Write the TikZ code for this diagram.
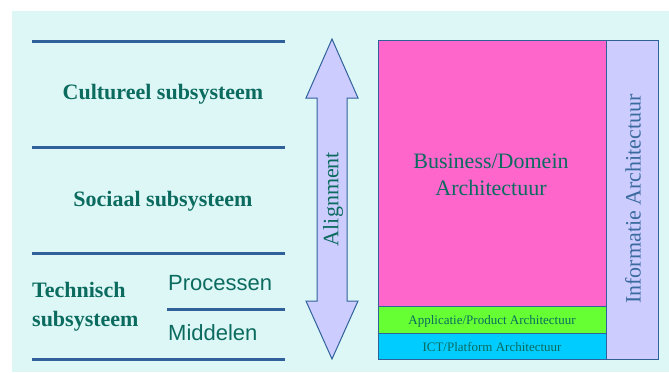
\documentclass[tikz,border=0pt]{standalone}
\usepackage{fontspec}
\setmainfont{Liberation Serif}
\newfontfamily\arialfont{Liberation Sans}
\definecolor{bgc}{HTML}{DDF7F7}
\definecolor{linec}{HTML}{30619A}
\definecolor{txtc}{HTML}{0B6B5E}
\definecolor{infoc}{HTML}{3A6A9E}
\definecolor{pinkc}{HTML}{FF66CC}
\definecolor{greenc}{HTML}{66FF33}
\definecolor{cyanc}{HTML}{00CCFF}
\definecolor{lavc}{HTML}{CCCCFF}
\begin{document}
\begin{tikzpicture}[x=1pt,y=-1pt,
  sepline/.style={draw=linec,line width=3pt},
  boxc/.style={draw=linec,line width=1pt},
  bigbold/.style={font=\fontsize{22}{28}\selectfont\bfseries,text=txtc,inner sep=0pt},
  sanslbl/.style={font=\arialfont\fontsize{22}{26}\selectfont,text=txtc,inner sep=0pt,anchor=west},
  serifmid/.style={font=\fontsize{22}{27}\selectfont,text=txtc,inner sep=0pt,align=center},
  smalllbl/.style={font=\fontsize{13}{15}\selectfont,text=txtc,inner sep=0pt}]
\useasboundingbox (0,0) rectangle (669,372);
\fill[bgc] (12,11) rectangle (669,372);
% separator lines
\coordinate (l1a) at (32,41);  \coordinate (l1b) at (285,41);
\coordinate (l2a) at (32,147); \coordinate (l2b) at (285,147);
\coordinate (l3a) at (32,253); \coordinate (l3b) at (285,253);
\coordinate (l4a) at (32,359); \coordinate (l4b) at (285,359);
\coordinate (l5a) at (167,309); \coordinate (l5b) at (285,309);
\draw[sepline] (l1a) -- (l1b);
\draw[sepline] (l2a) -- (l2b);
\draw[sepline] (l3a) -- (l3b);
\draw[sepline] (l4a) -- (l4b);
\draw[sepline] (l5a) -- (l5b);
% left labels
\node[bigbold] (cult) at (163,94) {Cultureel subsysteem};
\node[bigbold] (soc) at (163,201) {Sociaal subsysteem};
\node[bigbold,anchor=west,align=left,font=\fontsize{22}{29}\selectfont\bfseries] (tech) at (32,307) {Technisch\\subsysteem};
\node[sanslbl] (proc) at (168,283) {Processen};
\node[sanslbl] (midd) at (168,333) {Middelen};
% alignment arrow
\draw[draw=linec,line width=1pt,fill=lavc,line join=miter]
  (332,39) -- (358,98) -- (347,98) -- (347,301) -- (358,301) -- (332,359)
  -- (306,301) -- (317,301) -- (317,98) -- (306,98) -- cycle;
\node[serifmid,rotate=90] (align) at (333,199) {Alignment};
% architecture boxes
\path[boxc,fill=pinkc] (378,40) rectangle (606,306);
\path[boxc,fill=greenc] (378,306) rectangle (606,333);
\path[boxc,fill=cyanc] (378,333) rectangle (606,359);
\path[boxc,fill=lavc] (606,40) rectangle (658,359);
\node[serifmid] (bus) at (491,175) {Business/Domein\\Architectuur};
\node[smalllbl] (app) at (492,321) {Applicatie/Product Architectuur};
\node[smalllbl] (ict) at (492,347) {ICT/Platform Architectuur};
\node[serifmid,rotate=90,text=infoc] (info) at (633,199) {Informatie Architectuur};
\end{tikzpicture}
\end{document}
